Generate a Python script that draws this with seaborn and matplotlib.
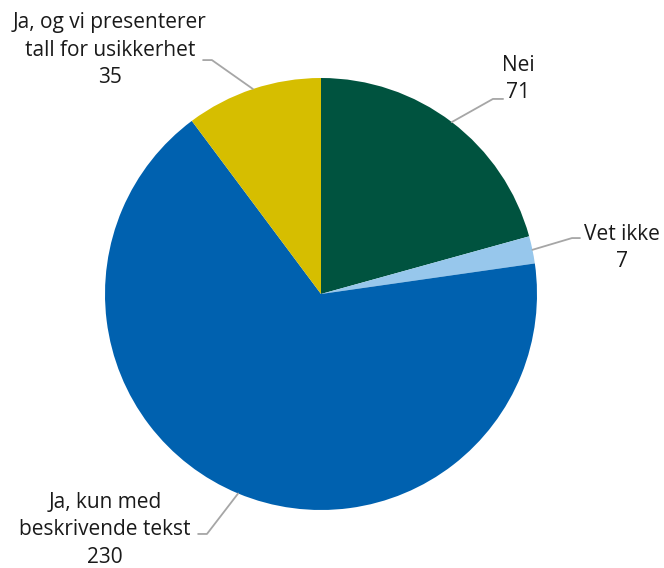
import numpy as np
import seaborn as sns
import matplotlib.pyplot as plt

# Data
kategorier = ['Nei', 'Vet ikke', 'Ja, kun med\nbeskrivende tekst', 'Ja, og vi presenterer\ntall for usikkerhet']
verdier = [71, 7, 230, 35]
farger = ['#00533F', '#97C7EC', '#0061AF', '#D6BE00']

sns.set_style('white')
plt.rcParams['font.family'] = ['Open Sans', 'DejaVu Sans']

W, H = 664, 568
fig = plt.figure(figsize=(W / 100, H / 100), dpi=100)
cx, cy, r = 321, 568 - 294, 216
ax = fig.add_axes([(cx - r) / W, (cy - r) / H, 2 * r / W, 2 * r / H])

wedges, _ = ax.pie(verdier, colors=farger, startangle=90, counterclock=False,
                   radius=1, wedgeprops=dict(linewidth=0))
ax.set_xlim(-1, 1)
ax.set_ylim(-1, 1)
ax.set_aspect('equal')
ax.axis('off')

# label layout: elbow, end of leader, text centre (data units)
layout = [
    ((0.796, 0.903), (0.843, 0.903), (0.912, 0.995)),
    ((1.162, 0.259), (1.199, 0.259), (1.394, 0.214)),
    ((-0.528, -1.111), (-0.569, -1.111), (-1.0, -1.092)),
    ((-0.505, 1.083), (-0.546, 1.083), (-0.977, 1.128)),
]

for w, navn, v, (elbow, end, txt) in zip(wedges, kategorier, verdier, layout):
    ang = np.deg2rad((w.theta1 + w.theta2) / 2)
    x0, y0 = np.cos(ang), np.sin(ang)
    ax.plot([x0, elbow[0], end[0]], [y0, elbow[1], end[1]], color='#A6A6A6',
            lw=1.3, clip_on=False)
    ax.text(txt[0], txt[1], f'{navn}\n{v}', ha='center', va='center',
            fontsize=15, linespacing=1.4, color='#1a1a1a', clip_on=False)

fig.savefig('out.png', dpi=100)
